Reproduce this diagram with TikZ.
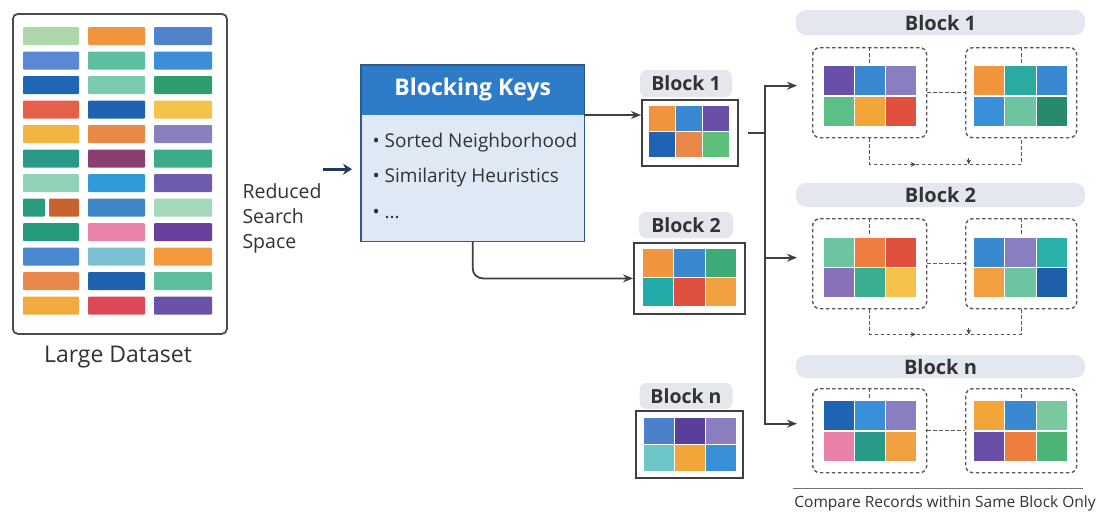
\documentclass[tikz,border=0pt]{standalone}
\usepackage{fontspec}
\setmainfont{Open Sans}
\usetikzlibrary{arrows.meta,calc}
% dataset palette
\definecolor{dA1}{HTML}{B0D6AC}\definecolor{dA2}{HTML}{F0953E}\definecolor{dA3}{HTML}{4F83CC}
\definecolor{dB1}{HTML}{5B88D2}\definecolor{dB2}{HTML}{5DBFA0}\definecolor{dB3}{HTML}{3A8FD8}
\definecolor{dC1}{HTML}{1F67B5}\definecolor{dC2}{HTML}{7CCBB0}\definecolor{dC3}{HTML}{2E9E6E}
\definecolor{dD1}{HTML}{E4604A}\definecolor{dD2}{HTML}{1F62AE}\definecolor{dD3}{HTML}{F5C24C}
\definecolor{dE1}{HTML}{F2B340}\definecolor{dE2}{HTML}{E8894A}\definecolor{dE3}{HTML}{8A80C0}
\definecolor{dF1}{HTML}{2A9A88}\definecolor{dF2}{HTML}{8A3E72}\definecolor{dF3}{HTML}{3DAA8A}
\definecolor{dG1}{HTML}{94D2B8}\definecolor{dG2}{HTML}{2F9AD8}\definecolor{dG3}{HTML}{6F5BB0}
\definecolor{dH0}{HTML}{2A9A80}\definecolor{dH1}{HTML}{C8622E}\definecolor{dH2}{HTML}{3E86C8}\definecolor{dH3}{HTML}{A6D8BC}
\definecolor{dI1}{HTML}{259A7C}\definecolor{dI2}{HTML}{E982A8}\definecolor{dI3}{HTML}{6A3F9E}
\definecolor{dJ1}{HTML}{4A88D0}\definecolor{dJ2}{HTML}{7CC0D6}\definecolor{dJ3}{HTML}{F29A3C}
\definecolor{dK1}{HTML}{E8884A}\definecolor{dK2}{HTML}{1F63B0}\definecolor{dK3}{HTML}{5EBF9E}
\definecolor{dL1}{HTML}{F2AA3E}\definecolor{dL2}{HTML}{DC4A58}\definecolor{dL3}{HTML}{6A52A8}
% grid palette
\definecolor{gOr}{HTML}{F0953E}\definecolor{gBl}{HTML}{3A88D0}\definecolor{gPu}{HTML}{6A4FA8}
\definecolor{gDb}{HTML}{1F64B2}\definecolor{gOr2}{HTML}{E8894A}\definecolor{gGr}{HTML}{5DBF7A}
\definecolor{gGn}{HTML}{3DAA78}\definecolor{gTe}{HTML}{22AAA8}\definecolor{gRe}{HTML}{E0503E}
\definecolor{gOr3}{HTML}{F0A040}\definecolor{gBm}{HTML}{4A80CC}\definecolor{gDp}{HTML}{5A3F9A}
\definecolor{gLa}{HTML}{8A7EC0}\definecolor{gLt}{HTML}{6CC6C8}\definecolor{gYo}{HTML}{F2A63A}
\definecolor{gSk}{HTML}{3A90D8}\definecolor{gMg}{HTML}{5DBF88}\definecolor{gYe}{HTML}{F5C24C}
\definecolor{gTg}{HTML}{2AAAA0}\definecolor{gMi}{HTML}{6CC4A0}\definecolor{gDg}{HTML}{278A6A}
\definecolor{gOe}{HTML}{EE7E40}\definecolor{gLv}{HTML}{8A70B8}\definecolor{gTq}{HTML}{3AAE90}
\definecolor{gTb}{HTML}{2AB0A8}\definecolor{gNv}{HTML}{1F5FAA}\definecolor{gPk}{HTML}{E880A8}
\definecolor{gTd}{HTML}{2A9A88}\definecolor{gMl}{HTML}{78C8A0}\definecolor{gGl}{HTML}{4DB478}
% ui colours
\definecolor{navy}{HTML}{1F3A5A}
\definecolor{bkhead}{HTML}{2E7BC8}
\definecolor{bkbody}{HTML}{DEE9F5}
\definecolor{bkborder}{HTML}{2F5A88}
\definecolor{lblgray}{HTML}{E4E7EC}
\definecolor{barbg}{HTML}{E3E8F0}
\definecolor{txt}{HTML}{333333}
\newcommand{\cellgrid}[5]{%
  \pgfmathsetmacro\gw{(#3-#1)/3}%
  \pgfmathsetmacro\gh{(#4-#2)/2}%
  \foreach \cc [count=\ii from 0] in {#5} {%
    \pgfmathsetmacro\gx{#1+mod(\ii,3)*\gw}%
    \pgfmathsetmacro\gy{#2+int(\ii/3)*\gh}%
    \fill[\cc] ({\gx+0.8},{\gy+0.8}) rectangle ({\gx+\gw-0.8},{\gy+\gh-0.8});
  }}
\begin{document}
\begin{tikzpicture}[x=1pt,y=-1pt,
  arr/.style={draw=black!75, line width=1.8pt, -{Stealth[length=10pt,width=8pt]}},
  plain/.style={draw=black!75, line width=1.8pt},
  navyarr/.style={draw=navy, line width=3.4pt, -{Stealth[length=9pt,width=11pt]}},
  dsh/.style={draw=black!65, line width=1.4pt, dash pattern=on 3.5pt off 2.5pt},
  dbox/.style={dsh, rounded corners=7pt, anchor=north west, inner sep=0pt},
  lbl/.style={fill=lblgray, rounded corners=7pt, font=\fontsize{19.5}{21}\selectfont\bfseries, text=txt, inner sep=0pt},
  bar/.style={fill=barbg, rounded corners=10pt, minimum width=289pt, font=\fontsize{20}{22}\selectfont\bfseries, text=txt, inner sep=0pt},
  blk/.style={draw=black!75, line width=1.8pt, fill=white, anchor=north west, inner sep=0pt},
  tip/.style={draw=black!70, line width=1pt, -{Stealth[length=5pt,width=5pt]}},
  body/.style={font=\fontsize{19}{25}\selectfont, text=txt}
]
\useasboundingbox[fill=white] (0,0) rectangle (1099,514);

% ---------- Large dataset ----------
\node[draw=black!70, line width=1.8pt, rounded corners=5pt, anchor=north west,
      minimum width=214pt, minimum height=320pt, inner sep=0pt] (dataset) at (12,13) {};
\foreach \r/\a/\b/\c in {0/dA1/dA2/dA3,1/dB1/dB2/dB3,2/dC1/dC2/dC3,3/dD1/dD2/dD3,
   4/dE1/dE2/dE3,5/dF1/dF2/dF3,6/dG1/dG2/dG3,8/dI1/dI2/dI3,9/dJ1/dJ2/dJ3,
   10/dK1/dK2/dK3,11/dL1/dL2/dL3} {
  \pgfmathsetmacro\yy{27+\r*24.5}
  \fill[\a, rounded corners=1pt] (23,\yy) rectangle ++(56,18);
  \fill[\b, rounded corners=1pt] (88,\yy) rectangle ++(57,18);
  \fill[\c, rounded corners=1pt] (154,\yy) rectangle ++(58,18);
}
\fill[dH0, rounded corners=1pt] (23,198.5) rectangle ++(22,18);
\fill[dH1, rounded corners=1pt] (49,198.5) rectangle ++(30,18);
\fill[dH2, rounded corners=1pt] (88,198.5) rectangle ++(57,18);
\fill[dH3, rounded corners=1pt] (154,198.5) rectangle ++(58,18);
\node[font=\fontsize{23}{25}\selectfont, text=txt] (dslabel) at (118,357) {Large Dataset};

% ---------- Reduced search space ----------
\node[font=\fontsize{19.5}{25}\selectfont, text=txt, align=left, anchor=west] (rss) at (239,218) {Reduced\\Search\\Space};

% ---------- Blocking keys ----------
\node[anchor=north west, minimum width=223pt, minimum height=176pt, fill=bkbody, inner sep=0pt] (bk) at (361,65) {};
\fill[bkhead] (bk.north west) rectangle ($(bk.north east)+(0,50)$);
\draw[bkborder, line width=1.5pt] (bk.north west) rectangle (bk.south east);
\node[font=\fontsize{23}{25}\selectfont\bfseries, text=white] (bkt) at ($(bk.north)+(0,25)$) {Blocking Keys};
\node[body, anchor=west] (k1) at (369,143) {• Sorted Neighborhood};
\node[body, anchor=west] (k2) at (369,178) {• Similarity Heuristics};
\node[body, anchor=west] (k3) at (369,214) {• ...};
\draw[navyarr, shorten >=9pt] ($(bk.west)+(-38,16)$) -- ($(bk.west)+(0,16)$);

% ---------- Middle blocks ----------
\node[lbl, minimum width=92pt, minimum height=27pt] (b1l) at (686,83.5) {Block 1};
\node[blk, minimum width=96pt, minimum height=66pt] (b1) at (641,99) {};
\cellgrid{648}{105}{730}{158}{gOr,gBl,gPu,gDb,gOr2,gGr}

\node[lbl, minimum width=94pt, minimum height=26pt] (b2l) at (686,225) {Block 2};
\node[blk, minimum width=111pt, minimum height=71pt] (b2) at (633,242) {};
\cellgrid{642}{248}{737}{307}{gOr,gBl,gGn,gTe,gRe,gOr3}

\node[lbl, minimum width=93pt, minimum height=26pt] (bnl) at (686,396) {Block n};
\node[blk, minimum width=107pt, minimum height=67pt] (bn) at (635,410) {};
\cellgrid{643}{417}{737}{472}{gBm,gDp,gLa,gLt,gYo,gSk}

% connectors from blocking keys
\coordinate (b1in) at ($(b1.north west)+(0,16)$);
\draw[arr] (bk.east |- b1in) -- (b1in);
\draw[arr, rounded corners=10pt] (bk.south) |- (b2.west);

% ---------- Right panels ----------
% panel 1
\node[bar, minimum height=25pt] (p1l) at (940.5,22.5) {Block 1};
\node[dbox, minimum width=114pt, minimum height=90pt] (p1a) at (812,47) {};
\node[dbox, minimum width=111pt, minimum height=90pt] (p1b) at (965,47) {};
\cellgrid{823}{65}{917}{127}{gPu,gBl,gLa,gMg,gYo,gRe}
\cellgrid{973}{65}{1068}{127}{gOr,gTg,gBl,gSk,gMi,gDg}
\draw[dsh] (p1a.east) -- (p1b.west);
\draw[dsh] (p1a.north) -- ++(0,18);
\draw[dsh] (p1b.north) -- ++(0,18);
\draw[dsh] (p1a.south) -- ++(0,26) -| (p1b.south);
\draw[tip] ($(p1a.south)+(40,26)$) -- ++(6,0);
\draw[tip] ($(p1a.south)+(99,20)$) -- ++(0,6);

% panel 2
\node[bar, minimum height=24pt] (p2l) at (940.5,195) {Block 2};
\node[dbox, minimum width=114pt, minimum height=90pt] (p2a) at (812,218) {};
\node[dbox, minimum width=111pt, minimum height=90pt] (p2b) at (965,218) {};
\cellgrid{823}{237}{917}{298}{gMi,gOe,gRe,gLv,gTq,gYe}
\cellgrid{973}{237}{1068}{298}{gBl,gLa,gTb,gOr3,gMi,gNv}
\draw[dsh] (p2a.east) -- (p2b.west);
\draw[dsh] (p2a.north) -- ++(0,18);
\draw[dsh] (p2b.north) -- ++(0,18);
\draw[dsh] (p2a.south) -- ++(0,25) -| (p2b.south);
\draw[tip] ($(p2a.south)+(40,25)$) -- ++(6,0);
\draw[tip] ($(p2a.south)+(99,19)$) -- ++(0,6);

% panel n
\node[bar, minimum height=23pt] (pnl) at (940.5,366.5) {Block n};
\node[dbox, minimum width=114pt, minimum height=84pt] (pna) at (812,388) {};
\node[dbox, minimum width=111pt, minimum height=84pt] (pnb) at (965,388) {};
\cellgrid{823}{400}{917}{462}{gDb,gSk,gLa,gPk,gTd,gOr3}
\cellgrid{973}{400}{1068}{462}{gYo,gBl,gMl,gPu,gOe,gGl}
\draw[dsh] (pna.east) -- (pnb.west);
\draw[dsh] (pna.north) -- ++(0,12);
\draw[dsh] (pnb.north) -- ++(0,12);

% trunk connectors
\coordinate (j) at (765,133);
\draw[plain, shorten <=9pt] (b1.east |- j) -- (j);
\draw[arr, shorten >=15pt] (j) |- ($(p1a.west)+(0,-7)$);
\draw[arr, shorten >=15pt] (j) |- ($(p2a.west)+(0,-6)$);
\draw[arr, shorten >=15pt] (j) |- ($(pna.west)+(0,-7)$);

% footer
\coordinate (fl) at (793,488);
\coordinate (fr) at (1083,488);
\draw[black!55, line width=1pt] (fl) -- (fr);
\node[font=\fontsize{15.5}{17}\selectfont, text=txt] (foot) at (945,503) {Compare Records within Same Block Only};
\end{tikzpicture}
\end{document}
